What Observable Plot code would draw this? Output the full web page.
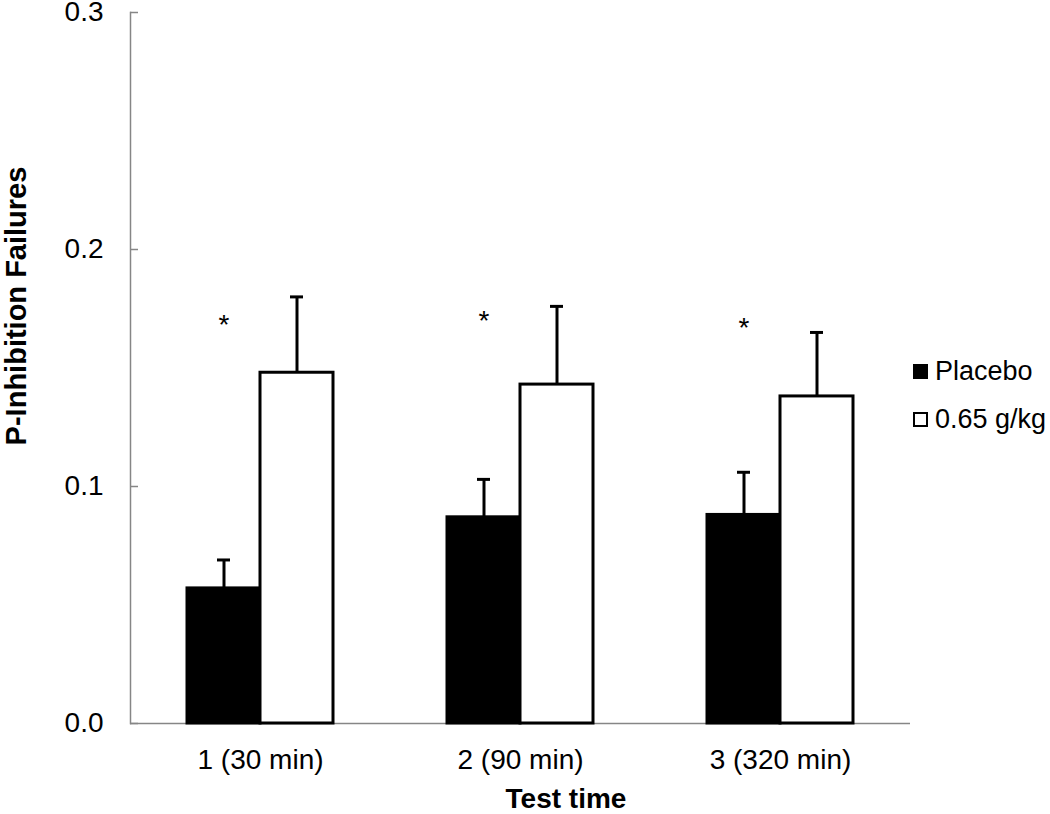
<!DOCTYPE html>
<html><head><meta charset="utf-8">
<script src="https://cdn.jsdelivr.net/npm/d3@7"></script>
<script src="https://cdn.jsdelivr.net/npm/@observablehq/plot@0.6"></script>
<style>
body{margin:0;background:#fff;}
#wrap{position:relative;width:1050px;height:814px;overflow:hidden;font-family:"Liberation Sans",Arial,sans-serif;color:#000;}
#chart{position:absolute;left:0;top:0;}
.legend{position:absolute;left:913px;top:347px;font-size:27px;}
.item{display:flex;align-items:center;height:48px;white-space:nowrap;}
.sw{width:15px;height:15px;box-sizing:border-box;border:2px solid #000;margin-right:7px;}
.ytitle{position:absolute;left:-234px;top:290px;width:500px;text-align:center;font-weight:bold;font-size:29px;line-height:32px;transform:rotate(-90deg);}
.xtitle{position:absolute;left:316px;top:784px;width:500px;text-align:center;font-weight:bold;font-size:28px;line-height:30px;}
</style></head><body><div id="wrap"><div id="chart"></div></div>
<script>
const times = ["1 (30 min)", "2 (90 min)", "3 (320 min)"];
const groups = ["Placebo", "0.65 g/kg"];
const placebo = [0.057, 0.087, 0.088];
const placeboSem = [0.012, 0.016, 0.018];
const alcohol = [0.148, 0.143, 0.138];
const alcoholSem = [0.032, 0.033, 0.027];
const starY = [0.168, 0.170, 0.167];
const yTicks = [0, 0.1, 0.2, 0.3];
const yTitle = "P-Inhibition Failures";
const xTitle = "Test time";

const rows = [];
times.forEach((t, i) => {
  rows.push({time: t, group: groups[0], value: placebo[i], sem: placeboSem[i]});
  rows.push({time: t, group: groups[1], value: alcohol[i], sem: alcoholSem[i]});
});
const stars = times.map((t, i) => ({time: t, group: groups[0], y: starY[i]}));
const tickRows = yTicks.map(v => ({time: times[0], v}));
const axisColor = "#868686";

const chart = Plot.plot({
  width: 1050,
  height: 814,
  marginLeft: 130,
  marginRight: 140,
  marginTop: 12,
  marginBottom: 91,
  style: {fontFamily: "'Liberation Sans', Arial, sans-serif", fontSize: "28px", color: "#000", background: "#fff", overflow: "visible"},
  fx: {domain: times, padding: 0, label: null},
  x: {domain: groups, paddingInner: 0, paddingOuter: 0.757, axis: null},
  y: {domain: [0, 0.3], label: null},
  color: {domain: groups, range: ["#000", "#fff"]},
  marks: [
    Plot.ruleY([0], {stroke: axisColor, strokeWidth: 1.5}),
    Plot.frame({anchor: "left", facetAnchor: "left", stroke: axisColor, strokeWidth: 1.5}),
    Plot.ruleY(tickRows, {fx: "time", y: "v", insetRight: 252, stroke: axisColor, strokeWidth: 1.5}),
    Plot.barY(rows, {fx: "time", x: "group", y: "value", fill: "group", stroke: "#000", strokeWidth: 3}),
    Plot.ruleX(rows, {fx: "time", x: "group", y1: "value", y2: d => d.value + d.sem, stroke: "#000", strokeWidth: 3}),
    Plot.tickY(rows, {fx: "time", x: "group", y: d => d.value + d.sem, stroke: "#000", strokeWidth: 3, insetLeft: 30, insetRight: 30}),
    Plot.text(stars, {fx: "time", x: "group", y: "y", text: () => "*", fontSize: 28, fill: "#000"}),
    Plot.axisY(yTicks, {tickSize: 0, tickPadding: 27, tickFormat: d3.format(".1f"), fontSize: 28, label: null}),
    Plot.axisFx({anchor: "bottom", tickSize: 0, tickPadding: 26, fontSize: 28, label: null})
  ]
});
document.getElementById("chart").appendChild(chart);

const wrap = document.getElementById("wrap");
const yt = document.createElement("div"); yt.className = "ytitle"; yt.textContent = yTitle; wrap.appendChild(yt);
const xt = document.createElement("div"); xt.className = "xtitle"; xt.textContent = xTitle; wrap.appendChild(xt);
const leg = document.createElement("div"); leg.className = "legend";
groups.forEach((g, i) => {
  const it = document.createElement("div"); it.className = "item";
  const sw = document.createElement("span"); sw.className = "sw"; sw.style.background = ["#000", "#fff"][i];
  const tx = document.createElement("span"); tx.textContent = g;
  it.appendChild(sw); it.appendChild(tx); leg.appendChild(it);
});
wrap.appendChild(leg);
</script>
</body></html>
